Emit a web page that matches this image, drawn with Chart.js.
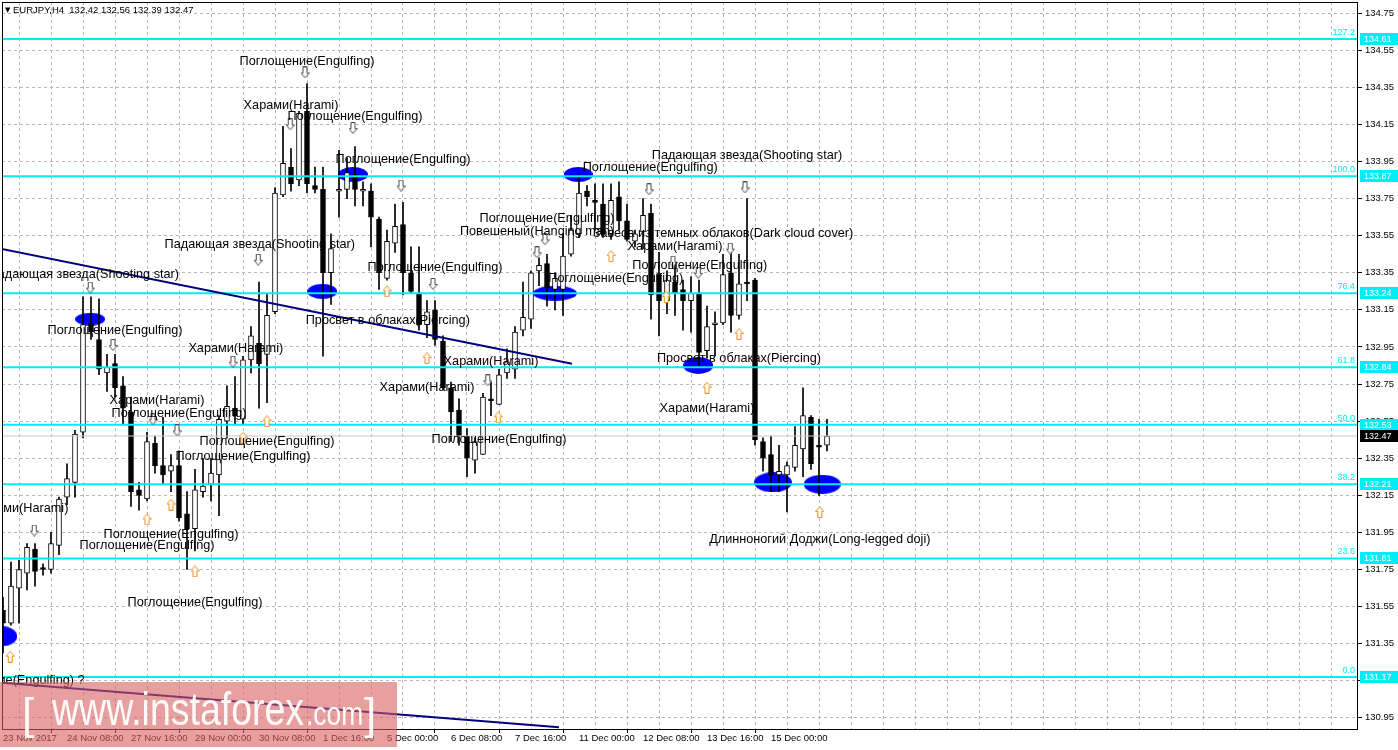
<!DOCTYPE html>
<html>
<head>
<meta charset="utf-8">
<title>EURJPY,H4</title>
<script src="https://cdn.jsdelivr.net/npm/chart.js@4.4.0/dist/chart.umd.min.js"></script>
<style>
  html, body { margin: 0; padding: 0; background: #fff; }
  #wrap { width: 1398px; height: 750px; }
</style>
</head>
<body>
<div id="wrap"><canvas id="chart" width="1398" height="750"></canvas></div>
<script>
// H4 bars, one per index
const opens = [
  131.53, 131.46, 131.65, 131.73, 131.86, 131.76, 131.75, 131.88, 132.14, 132.22,
  132.49, 133.08, 132.99, 132.81, 132.86, 132.74, 132.60, 132.18, 132.13, 132.43,
  132.31, 132.28, 132.31, 132.05, 131.97, 132.17, 132.21, 132.26, 132.55, 132.62,
  132.56, 132.88, 132.97, 132.91, 133.14, 133.77, 133.92, 133.85, 134.22, 133.82,
  133.80, 133.35, 133.79, 133.80, 133.88, 133.79, 133.79, 133.64, 133.32, 133.51,
  133.61, 133.35, 133.24, 133.07, 133.15, 132.98, 132.73, 132.61, 132.47, 132.34,
  132.37, 132.67, 132.64, 132.81, 132.83, 133.04, 133.10, 133.36, 133.40, 133.26,
  133.26, 133.45, 133.56, 133.79, 133.74, 133.72, 133.56, 133.76, 133.63, 133.52,
  133.57, 133.67, 133.34, 133.20, 133.30, 133.26, 133.20, 133.24, 132.93, 133.07,
  133.08, 133.35, 133.12, 133.30, 133.31, 132.44, 132.37, 132.26, 132.26, 132.30,
  132.40, 132.57, 132.42, 132.42
];
const highs = [
  131.60, 131.79, 131.80, 131.89, 131.89, 131.78, 131.95, 132.14, 132.32, 132.50,
  133.22, 133.22, 133.21, 132.91, 132.91, 132.79, 132.68, 132.22, 132.49, 132.47,
  132.57, 132.37, 132.39, 132.17, 132.29, 132.35, 132.35, 132.58, 132.74, 132.79,
  132.90, 133.06, 133.30, 133.24, 133.81, 134.14, 134.02, 134.22, 134.37, 133.92,
  133.92, 133.56, 134.01, 133.97, 134.03, 133.84, 133.83, 133.65, 133.58, 133.72,
  133.73, 133.49, 133.49, 133.20, 133.20, 133.01, 132.76, 132.67, 132.51, 132.46,
  132.70, 132.76, 132.83, 132.94, 133.06, 133.30, 133.36, 133.43, 133.45, 133.35,
  133.56, 133.66, 133.88, 133.82, 133.83, 133.83, 133.83, 133.84, 133.72, 133.58,
  133.75, 133.72, 133.46, 133.36, 133.40, 133.31, 133.33, 133.31, 133.17, 133.14,
  133.45, 133.49, 133.45, 133.75, 133.32, 132.46, 132.47, 132.42, 132.33, 132.52,
  132.73, 132.58, 132.56, 132.56
];
const lows = [
  131.30, 131.45, 131.46, 131.64, 131.66, 131.72, 131.73, 131.83, 132.10, 132.14,
  132.46, 132.99, 132.80, 132.71, 132.68, 132.53, 132.09, 132.07, 132.12, 132.27,
  132.21, 132.17, 132.01, 131.75, 131.85, 132.14, 132.12, 132.04, 132.46, 132.53,
  132.53, 132.81, 132.62, 132.65, 133.13, 133.76, 133.79, 133.82, 133.78, 133.78,
  132.90, 133.18, 133.65, 133.75, 133.71, 133.71, 133.49, 133.26, 133.31, 133.46,
  133.23, 133.24, 133.04, 133.00, 132.96, 132.72, 132.44, 132.42, 132.25, 132.27,
  132.37, 132.58, 132.64, 132.78, 132.78, 133.01, 133.05, 133.28, 133.17, 133.15,
  133.12, 133.44, 133.54, 133.71, 133.58, 133.54, 133.53, 133.58, 133.52, 133.49,
  133.48, 133.10, 133.01, 133.13, 133.12, 133.04, 133.03, 132.85, 132.89, 132.90,
  133.07, 133.03, 133.10, 133.20, 132.42, 132.28, 132.17, 132.17, 132.06, 132.28,
  132.25, 132.29, 132.15, 132.39
];
const closes = [
  131.46, 131.66, 131.75, 131.87, 131.74, 131.75, 131.89, 132.13, 132.24, 132.48,
  133.07, 133.03, 132.83, 132.84, 132.73, 132.62, 132.17, 132.15, 132.44, 132.31,
  132.26, 132.31, 132.03, 131.97, 132.18, 132.20, 132.27, 132.56, 132.63, 132.58,
  132.88, 133.01, 132.86, 133.12, 133.78, 133.94, 133.83, 134.21, 133.83, 133.80,
  133.35, 133.48, 133.80, 133.89, 133.80, 133.80, 133.65, 133.35, 133.52, 133.60,
  133.35, 133.25, 133.07, 133.14, 132.99, 132.73, 132.60, 132.47, 132.35, 132.44,
  132.68, 132.66, 132.80, 132.87, 133.03, 133.11, 133.35, 133.39, 133.27, 133.32,
  133.44, 133.58, 133.78, 133.76, 133.73, 133.56, 133.74, 133.63, 133.53, 133.56,
  133.66, 133.23, 133.20, 133.31, 133.24, 133.20, 133.24, 132.92, 133.06, 133.08,
  133.34, 133.12, 133.29, 133.29, 132.45, 132.35, 132.26, 132.28, 132.31, 132.42,
  132.58, 132.32, 132.41, 132.47
];

// time labels, one every 8 bars starting at bar 0
const timeLabels = [
  '23 Nov 2017', '24 Nov 08:00', '27 Nov 16:00', '29 Nov 00:00', '30 Nov 08:00',
  '1 Dec 16:00', '5 Dec 00:00', '6 Dec 08:00', '7 Dec 16:00', '11 Dec 00:00',
  '12 Dec 08:00', '13 Dec 16:00', '15 Dec 00:00'
];
const priceTicks = [
  130.95, 131.15, 131.35, 131.55, 131.75, 131.95, 132.15, 132.35, 132.55, 132.75,
  132.95, 133.15, 133.35, 133.55, 133.75, 133.95, 134.15, 134.35, 134.55, 134.75
];

// fibonacci grid
const fibLevels = [134.61, 133.87, 133.24, 132.84, 132.53, 132.21, 131.81, 131.17];
const fibNames = ['127.2', '100.0', '76.4', '61.8', '50.0', '38.2', '23.6', '0.0'];

const lastPrice = 132.47;
const headerText = 'EURJPY,H4  132.42 132.56 132.39 132.47';

// trend lines [bar, price]
const trendUpper = [[-0.375, 133.48], [71.125, 132.86]];
const trendLower = [[-0.375, 131.14], [69.5, 130.90]];

// candle pattern labels
const patternText = [
  'Поглощение(Engulfing)', 'Харами(Harami)', 'Поглощение(Engulfing)', 'Поглощение(Engulfing)',
  'Падающая звезда(Shooting star)', 'Поглощение(Engulfing)', 'Поглощение(Engulfing)',
  'Повешеный(Hanging man)', 'Завеса из темных облаков(Dark cloud cover)', 'Харами(Harami)',
  'Падающая звезда(Shooting star)', 'Поглощение(Engulfing)', 'Поглощение(Engulfing)',
  'Поглощение(Engulfing)', 'Падающая звезда(Shooting star)', 'Поглощение(Engulfing)',
  'Просвет в облаках(Piercing)', 'Харами(Harami)', 'Харами(Harami)', 'Просвет в облаках(Piercing)',
  'Харами(Harami)', 'Харами(Harami)', 'Поглощение(Engulfing)', 'Харами(Harami)',
  'Поглощение(Engulfing)', 'Поглощение(Engulfing)', 'Поглощение(Engulfing)', 'Харами(Harami)',
  'Поглощение(Engulfing)', 'Поглощение(Engulfing)', 'Длинноногий Доджи(Long-legged doji)',
  'Поглощение(Engulfing)', 'Поглощение(Engulfing) ?'
];
const patternX = [
  38.0, 36.0, 44.0, 50.0, 93.0, 80.9, 68.0, 66.75, 90.0, 84.0,
  32.1, 54.0, 87.1, 76.6, 10.1, 14.0, 48.1, 29.1, 61.0, 92.0,
  53.0, 19.25, 22.0, 88.0, 33.0, 62.0, 30.0, 2.25, 21.0, 18.0,
  102.1, 24.0, 1.1
];
const patternY = [
  134.49, 134.25, 134.19, 133.96, 133.98, 133.92, 133.64, 133.57, 133.56, 133.49,
  133.50, 133.38, 133.39, 133.32, 133.34, 133.04, 133.09, 132.94, 132.87, 132.89,
  132.73, 132.66, 132.59, 132.62, 132.44, 132.45, 132.36, 132.08, 131.94, 131.88,
  131.91, 131.57, 131.15
];

// signal arrows
const downX = [37.75, 35.9, 43.75, 49.75, 31.9, 10.9, 13.75, 53.75, 28.75, 18.75,
               21.75, 66.75, 67.75, 80.75, 83.75, 86.9, 90.9, 92.75, 60.6, 3.9];
const downY = [134.43, 134.15, 134.13, 133.82, 133.42, 133.27, 132.96, 133.29, 132.87, 132.56,
               132.50, 133.46, 133.53, 133.80, 133.41, 133.35, 133.48, 133.81, 132.77, 131.96];
const upX = [0.9, 18.0, 21.0, 24.0, 30.0, 33.0, 48.0, 53.0, 61.9, 76.0, 82.9, 88.0, 92.0, 102.1];
const upY = [131.28, 132.02, 132.10, 131.74, 132.46, 132.55, 133.25, 132.89, 132.57, 133.44,
             133.22, 132.73, 133.02, 132.06];

// marked ovals
const ovalX = [10.9, 39.9, 43.75, 71.9, 69.0, 86.9, 96.25, 102.4, -0.1];
const ovalY = [133.10, 133.25, 133.88, 133.88, 133.24, 132.85, 132.22, 132.21, 131.39];
const ovalSize = [[30, 13], [30, 15], [30, 15], [29, 15], [44, 15], [30, 17], [38, 20], [37, 19], [30, 20]];

const X_MIN = -0.125, X_MAX = 169.375;
const CYAN = 'rgb(0,236,246)';
const GRID = '#b9b9b9';
const FONT = "'Liberation Sans', Arial, sans-serif";

function arrowIcon(up, stroke) {
  const c = document.createElement('canvas');
  c.width = 9; c.height = 12;
  const g = c.getContext('2d');
  const pts = [[2.5, 0.5], [6.5, 0.5], [6.5, 6.5], [8.5, 6.5], [4.5, 11.5], [0.5, 6.5], [2.5, 6.5]];
  g.beginPath();
  pts.forEach(([px, py], k) => {
    const yy = up ? 12 - py : py;
    if (k) g.lineTo(px, yy); else g.moveTo(px, yy);
  });
  g.closePath();
  g.fillStyle = '#fff';
  g.fill();
  g.strokeStyle = stroke;
  g.lineWidth = 1;
  g.stroke();
  return c;
}

function ovalIcon(w, h) {
  const c = document.createElement('canvas');
  c.width = w; c.height = h;
  const g = c.getContext('2d');
  g.fillStyle = '#0000ff';
  g.beginPath();
  g.ellipse(w / 2, h / 2, w / 2, h / 2, 0, 0, Math.PI * 2);
  g.fill();
  return c;
}

const bodies = opens.map((o, i) => {
  let lo = Math.min(o, closes[i]);
  let hi = Math.max(o, closes[i]);
  if (hi - lo < 0.01) hi = lo + 0.01;   // keep dojis visible
  return { x: i, y: [lo, hi] };
});
const bodyColors = opens.map((o, i) => closes[i] > o ? '#ffffff' : '#000000');
const wicks = highs.map((h, i) => ({ x: i, y: [lows[i], h] }));

const hLine = (lv, color, width, order) => ({
  type: 'line',
  data: [{ x: X_MIN, y: lv }, { x: X_MAX, y: lv }],
  borderColor: color, borderWidth: width, pointRadius: 0, order: order
});
const segment = (pts, order) => ({
  type: 'line',
  data: pts.map(p => ({ x: p[0], y: p[1] })),
  borderColor: '#000080', borderWidth: 2, pointRadius: 0, order: order
});

// scale label paddings would push the plot in; the frame sits at the edge
const noPad = s => { s.paddingTop = 0; s.paddingBottom = 0; s.paddingLeft = 0; s.paddingRight = 0; };

// frame around the plot
const framePlugin = {
  id: 'frame',
  afterDatasetsDraw(chart) {
    const { ctx, chartArea: a } = chart;
    ctx.save();
    ctx.strokeStyle = '#000';
    ctx.lineWidth = 1;
    ctx.strokeRect(a.left + 0.5, a.top + 0.5, a.right - a.left - 1, a.bottom - a.top);
    ctx.restore();
  }
};

// pattern names drawn at bar / price positions
const labelPlugin = {
  id: 'patternLabels',
  afterDatasetsDraw(chart) {
    const { ctx, chartArea: a, scales } = chart;
    ctx.save();
    ctx.beginPath();
    ctx.rect(a.left, a.top, a.right - a.left, a.bottom - a.top);
    ctx.clip();
    ctx.font = '12.7px ' + FONT;
    ctx.fillStyle = '#000';
    ctx.textAlign = 'center';
    ctx.textBaseline = 'middle';
    patternText.forEach((t, i) => {
      ctx.fillText(t, scales.x.getPixelForValue(patternX[i]), scales.y.getPixelForValue(patternY[i]));
    });
    ctx.restore();
  }
};

// price boxes, level names, header and watermark
const overlayPlugin = {
  id: 'overlay',
  afterDraw(chart) {
    const { ctx, chartArea: a, scales } = chart;
    ctx.save();
    ctx.font = '9px ' + FONT;
    ctx.textBaseline = 'middle';
    fibLevels.forEach((lv, i) => {
      const y = Math.round(scales.y.getPixelForValue(lv));
      ctx.fillStyle = CYAN;
      ctx.fillRect(a.right + 2, y - 6, 38, 12);
      ctx.fillStyle = '#fff';
      ctx.textAlign = 'left';
      ctx.fillText(lv.toFixed(2), a.right + 6, y + 0.5);
      ctx.fillStyle = CYAN;
      ctx.textAlign = 'right';
      ctx.fillText(fibNames[i], a.right - 3, y - 6);
    });
    const yl = Math.round(scales.y.getPixelForValue(lastPrice));
    ctx.fillStyle = '#000';
    ctx.fillRect(a.right + 2, yl - 6, 38, 12);
    ctx.fillStyle = '#fff';
    ctx.textAlign = 'left';
    ctx.fillText(lastPrice.toFixed(2), a.right + 6, yl + 0.5);

    ctx.fillStyle = '#000';
    ctx.font = '7px DejaVu Sans';
    ctx.fillText('▼', 5, 10);
    ctx.font = '9.5px ' + FONT;
    ctx.fillText(headerText, 13, 10);

    // watermark
    ctx.fillStyle = 'rgba(215,95,95,0.6)';
    ctx.fillRect(0, 682, 397, 65);
    ctx.fillStyle = 'rgba(255,255,255,0.95)';
    ctx.textBaseline = 'alphabetic';
    ctx.font = '44px ' + FONT;
    ctx.fillText('[', 22, 729);
    ctx.fillText(']', 364, 729);
    ctx.save();
    ctx.translate(52, 725);
    ctx.scale(0.815, 1);
    ctx.font = '46px ' + FONT;
    ctx.fillText('www.instaforex', 0, 0);
    ctx.restore();
    ctx.save();
    ctx.translate(306, 725);
    ctx.scale(0.8, 1);
    ctx.font = '33px ' + FONT;
    ctx.fillText('.com', 0, 0);
    ctx.restore();
    ctx.restore();
  }
};

Chart.defaults.font.family = FONT;

new Chart(document.getElementById('chart'), {
  type: 'bar',
  data: {
    datasets: [
      {
        type: 'scatter',
        data: upX.map((x, i) => ({ x: x, y: upY[i] })),
        pointStyle: arrowIcon(true, '#e8901c'), pointRadius: 5, order: 0
      },
      {
        type: 'scatter',
        data: downX.map((x, i) => ({ x: x, y: downY[i] })),
        pointStyle: arrowIcon(false, '#4a4a4a'), pointRadius: 5, order: 0
      },
      segment(trendUpper, 1),
      segment(trendLower, 1),
      ...fibLevels.map(lv => hLine(lv, CYAN, 2, 2)),
      hLine(lastPrice, '#c8c8c8', 1, 3),
      {
        type: 'bar',
        data: bodies,
        backgroundColor: bodyColors,
        borderColor: '#000',
        borderWidth: 1,
        borderSkipped: false,
        barThickness: 5,
        grouped: false,
        order: 4
      },
      {
        type: 'bar',
        data: wicks,
        backgroundColor: '#000',
        borderWidth: 0,
        barThickness: 1,
        grouped: false,
        order: 5
      },
      {
        type: 'scatter',
        data: ovalX.map((x, i) => ({ x: x, y: ovalY[i] })),
        pointStyle: ovalSize.map(s => ovalIcon(s[0], s[1])),
        pointRadius: 5,
        order: 6
      }
    ]
  },
  options: {
    responsive: false,
    animation: false,
    layout: { autoPadding: false, padding: { left: 2, top: 2, right: 0, bottom: 0 } },
    plugins: { legend: { display: false }, tooltip: { enabled: false } },
    scales: {
      x: {
        type: 'linear',
        min: X_MIN,
        max: X_MAX,
        offset: false,
        afterBuildTicks: s => {
          s.ticks = [];
          for (let v = 0; v <= 168; v += 4) s.ticks.push({ value: v });
        },
        afterFit: s => { s.height = 21; noPad(s); },
        grid: {
          color: GRID,
          borderDash: [3, 3],
          tickLength: 4,
          tickBorderDash: [],
          tickColor: c => (c.tick && c.tick.value % 8 === 0 && c.tick.value / 8 < timeLabels.length) ? '#000' : 'rgba(0,0,0,0)'
        },
        border: { display: false, dash: [3, 3] },
        ticks: {
          autoSkip: false,
          maxRotation: 0,
          align: 'start',
          padding: 0,
          color: '#000',
          font: { size: 9.5 },
          callback: v => (v % 8 === 0 && timeLabels[v / 8]) || ''
        }
      },
      y: {
        type: 'linear',
        position: 'right',
        min: 130.89,
        max: 134.81,
        afterBuildTicks: s => { s.ticks = priceTicks.map(v => ({ value: v })); },
        afterFit: s => { s.width = 40; noPad(s); },
        grid: {
          color: GRID,
          borderDash: [3, 3],
          tickLength: 4,
          tickBorderDash: [],
          tickColor: '#000'
        },
        border: { display: false, dash: [3, 3] },
        ticks: {
          padding: 3,
          color: '#000',
          font: { size: 9.5 },
          callback: v => v.toFixed(2)
        }
      }
    }
  },
  plugins: [framePlugin, labelPlugin, overlayPlugin]
});
</script>
</body>
</html>
